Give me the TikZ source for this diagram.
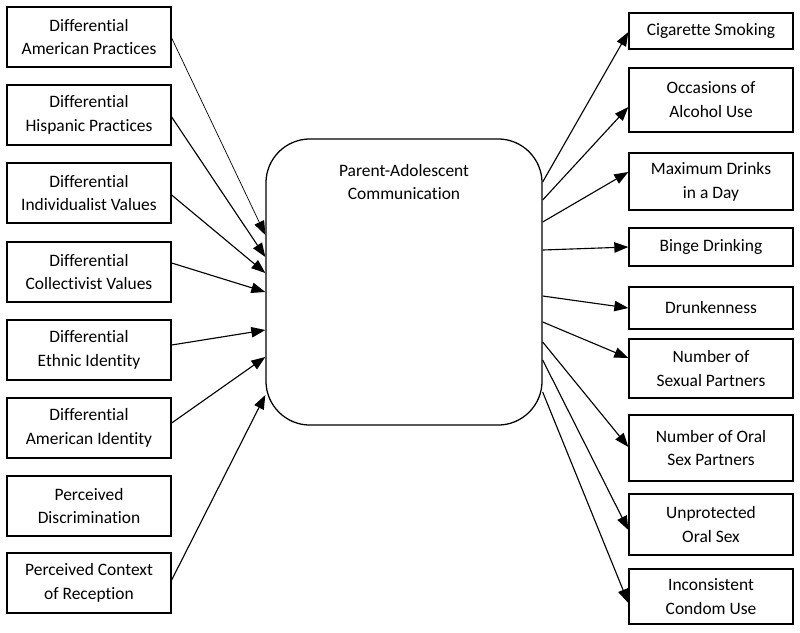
\documentclass[tikz,border=0pt]{standalone}
\usepackage{fontspec}
\setmainfont{Carlito}[Ligatures={NoCommon}]
\usetikzlibrary{arrows.meta}

\tikzset{
  var/.style={draw, line width=0.9pt, minimum width=4.1cm, inner sep=0pt,
    align=center, font=\fontsize{12.4}{17}\selectfont},
  link/.style={line width=0.8pt, -{Triangle[length=0.35cm,width=0.26cm]}}
}

\newcommand{\leftvar}[3]{
\node[var, minimum height=1.5cm] (#1) at (89, #2) {#3};
}
\newcommand{\rightvar}[4]{
\node[var, minimum height=#3] (#1) at (711, #2) {#4};
}

\begin{document}
\begin{tikzpicture}[x=0.025cm, y=-0.025cm]
\useasboundingbox (0,0) rectangle (800,632);

\leftvar{amprac}{37}{Differential\\American Practices}
\leftvar{hisprac}{115}{Differential\\Hispanic Practices}
\leftvar{indval}{193}{Differential\\Individualist Values}
\leftvar{colval}{272}{Differential\\Collectivist Values}
\leftvar{ethid}{350}{Differential\\Ethnic Identity}
\leftvar{amid}{428}{Differential\\American Identity}
\leftvar{discrim}{506}{Perceived\\Discrimination}
\leftvar{context}{583}{Perceived Context\\of Reception}

\node[draw, line width=0.9pt, rounded corners=1.1cm, minimum width=6.9cm,
  minimum height=7.15cm] (comm) at (404, 282) {};
\node[font=\fontsize{12.4}{17}\selectfont, align=center] (commtext) at (404, 182)
  {Parent-Adolescent\\Communication};

\rightvar{cig}{31}{0.9cm}{Cigarette Smoking}
\rightvar{occ}{100}{1.6cm}{Occasions of\\Alcohol Use}
\rightvar{maxdr}{181.5}{1.425cm}{Maximum Drinks\\in a Day}
\rightvar{binge}{247}{0.95cm}{Binge Drinking}
\rightvar{drunk}{308}{1.05cm}{Drunkenness}
\rightvar{sexp}{368.5}{1.475cm}{Number of\\Sexual Partners}
\rightvar{oralp}{448}{1.65cm}{Number of Oral\\Sex Partners}
\rightvar{unprot}{524.5}{1.525cm}{Unprotected\\Oral Sex}
\rightvar{condom}{596.5}{1.375cm}{Inconsistent\\Condom Use}

% predictors
\draw[link, line width=0.5pt] (amprac.east |- 0,38) -- (comm.west |- 0,235);
\draw[link] (hisprac.east |- 0,117) -- (comm.west |- 0,257);
\draw[link] (indval.east |- 0,195) -- (comm.west |- 0,273);
\draw[link] (colval.east |- 0,263) -- (comm.west |- 0,292);
\draw[link] (ethid.east |- 0,345) -- (comm.west |- 0,330);
\draw[link] (amid.east |- 0,423) -- (comm.west |- 0,357);
\draw[link] (context.east |- 0,580) -- (comm.west |- 0,395);

% outcomes
\draw[link] (comm.east |- 0,182) -- (cig.west |- 0,32);
\draw[link] (comm.east |- 0,200) -- (occ.west |- 0,107);
\draw[link] (comm.east |- 0,222) -- (maxdr.west |- 0,172);
\draw[link] (comm.east |- 0,250) -- (binge.west |- 0,247);
\draw[link] (comm.east |- 0,296) -- (drunk.west |- 0,308);
\draw[link] (comm.east |- 0,322) -- (sexp.west |- 0,358);
\draw[link] (comm.east |- 0,342) -- (oralp.west |- 0,447);
\draw[link] (comm.east |- 0,360) -- (unprot.west |- 0,530);
\draw[link] (comm.east |- 0,392) -- (condom.west |- 0,603);

\end{tikzpicture}
\end{document}
